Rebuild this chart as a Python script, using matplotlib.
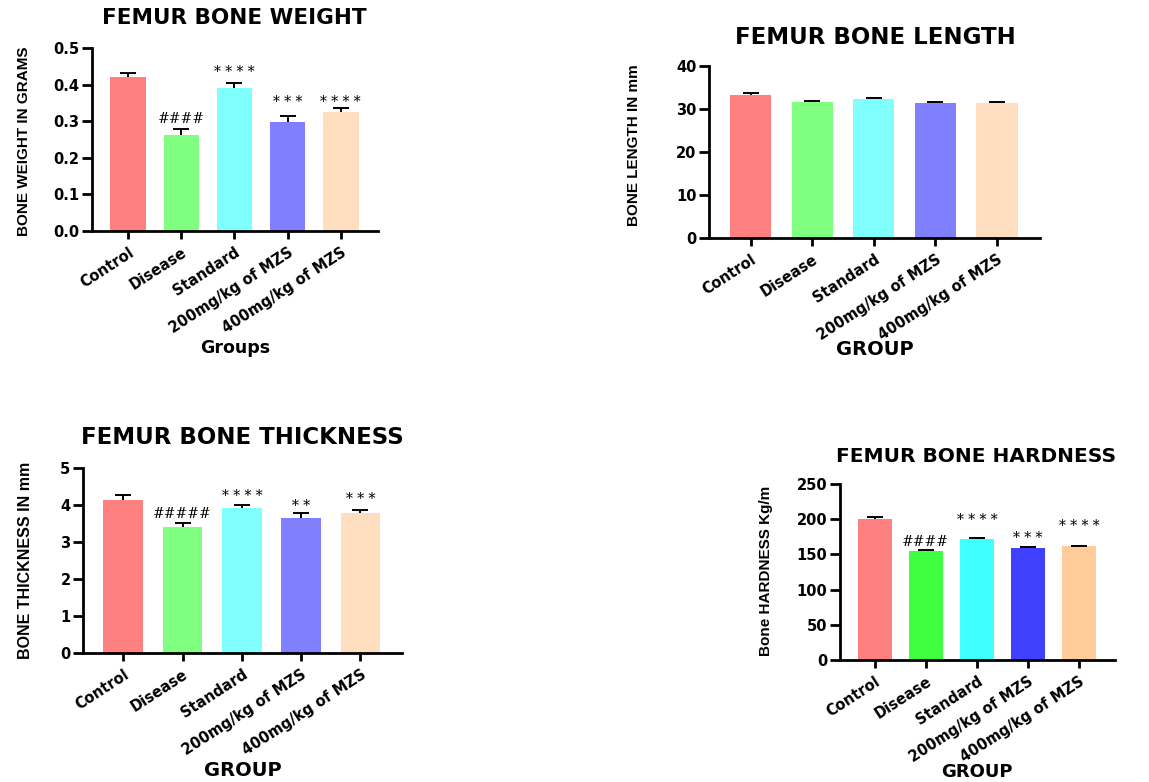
import matplotlib.pyplot as plt

groups = ['Control', 'Disease', 'Standard', '200mg/kg of MZS', '400mg/kg of MZS']

weight_mean = [0.42, 0.261, 0.39, 0.299, 0.325]
weight_err = [0.012, 0.018, 0.014, 0.014, 0.010]
weight_sig = ['', '####', '* * * *', '* * *', '* * * *']
weight_sig_y = [0, 0.306, 0.434, 0.352, 0.352]

length_mean = [33.3, 31.6, 32.4, 31.4, 31.4]
length_err = [0.5, 0.3, 0.2, 0.3, 0.2]

thick_mean = [4.14, 3.40, 3.91, 3.66, 3.78]
thick_err = [0.12, 0.12, 0.10, 0.13, 0.09]
thick_sig = ['', '#####', '* * * *', '* *', '* * *']
thick_sig_y = [0, 3.76, 4.24, 3.97, 4.16]

hard_mean = [200.5, 154.5, 171.5, 159.5, 161.5]
hard_err = [2.0, 1.5, 2.0, 1.5, 1.0]
hard_sig = ['', '####', '* * * *', '* * *', '* * * *']
hard_sig_y = [0, 168, 199, 173, 190]

pale = ['#FF8080', '#80FF80', '#80FFFF', '#8080FF', '#FFDEC0']
bright = ['#FF8080', '#40FF40', '#40FFFF', '#4040FF', '#FFCC99']

W, H = 1149, 782
fig = plt.figure(figsize=(W / 100, H / 100), dpi=100)
narrow = 'Liberation Sans'


def px_rect(left, right, top, bottom):
    return [left / W, 1 - bottom / H, (right - left) / W, (bottom - top) / H]


def panel(rect, means, errs, colors, yticks, fmt, sig=None, sig_y=None):
    ax = fig.add_axes(rect)
    x = range(len(groups))
    ax.bar(x, means, width=0.67, color=colors, zorder=2)
    eb = ax.errorbar(x, means, yerr=[[0] * len(errs), errs], fmt='none',
                     ecolor='black', elinewidth=1.4, capsize=6, capthick=1.4, zorder=3)
    eb[1][0].set_visible(False)  # only the upper cap, GraphPad style
    ax.set_xlim(-0.68, 4.7)
    ax.set_ylim(yticks[0], yticks[-1])
    ax.set_yticks(yticks)
    ax.set_yticklabels([fmt.format(v) for v in yticks], fontweight='bold', fontsize=10.5)
    ax.set_xticks(list(x))
    ax.set_xticklabels(groups, rotation=33, ha='right', rotation_mode='anchor',
                       fontweight='bold', fontsize=10.5)
    for s in ['top', 'right']:
        ax.spines[s].set_visible(False)
    for s in ['left', 'bottom']:
        ax.spines[s].set_linewidth(2)
    ax.tick_params(axis='y', length=7, width=2, pad=2)
    ax.tick_params(axis='x', length=6, width=2, pad=4)
    ax.patch.set_alpha(0)
    if sig:
        for i, (t, y) in enumerate(zip(sig, sig_y)):
            if t:
                ax.text(i, y, t, ha='center', va='center', fontsize=10,
                        family='DejaVu Serif')
    return ax


def label(x, y, text, size=13, rot=0, fam=None, weight='bold'):
    fig.text(x / W, 1 - y / H, text, ha='center', va='center', rotation=rot,
             fontsize=size, fontweight=weight, family=fam or 'DejaVu Sans')


# FEMUR BONE WEIGHT
panel(px_rect(92, 378, 48, 231), weight_mean, weight_err, pale,
      [0.0, 0.1, 0.2, 0.3, 0.4, 0.5], '{:.1f}', weight_sig, weight_sig_y)
label(234, 18, 'FEMUR BONE WEIGHT', 15.5)
label(235, 348, 'Groups', 12.5)
label(24, 141, 'BONE WEIGHT IN GRAMS', 11, 90, narrow)

# FEMUR BONE LENGTH
panel(px_rect(709, 1040, 66, 238), length_mean, length_err, pale,
      [0, 10, 20, 30, 40], '{:d}')
label(875, 38, 'FEMUR BONE LENGTH', 16.5)
label(875, 349, 'GROUP', 14)
label(634, 145, 'BONE LENGTH IN mm', 11, 90, narrow)

# FEMUR BONE THICKNESS
panel(px_rect(83, 402, 468, 653), thick_mean, thick_err, pale,
      [0, 1, 2, 3, 4, 5], '{:d}', thick_sig, thick_sig_y)
label(242, 437, 'FEMUR BONE THICKNESS', 16.5)
label(243, 770, 'GROUP', 14)
label(26, 560, 'BONE THICKNESS IN mm', 11.5, 90, narrow)

# FEMUR BONE HARDNESS
panel(px_rect(840, 1115, 484, 660), hard_mean, hard_err, bright,
      [0, 50, 100, 150, 200, 250], '{:d}', hard_sig, hard_sig_y)
label(976, 457, 'FEMUR BONE HARDNESS', 14.5)
label(977, 772, 'GROUP', 13)
label(766, 571, 'Bone HARDNESS Kg/m', 11, 90, narrow)

fig.savefig('out.png', dpi=100)
